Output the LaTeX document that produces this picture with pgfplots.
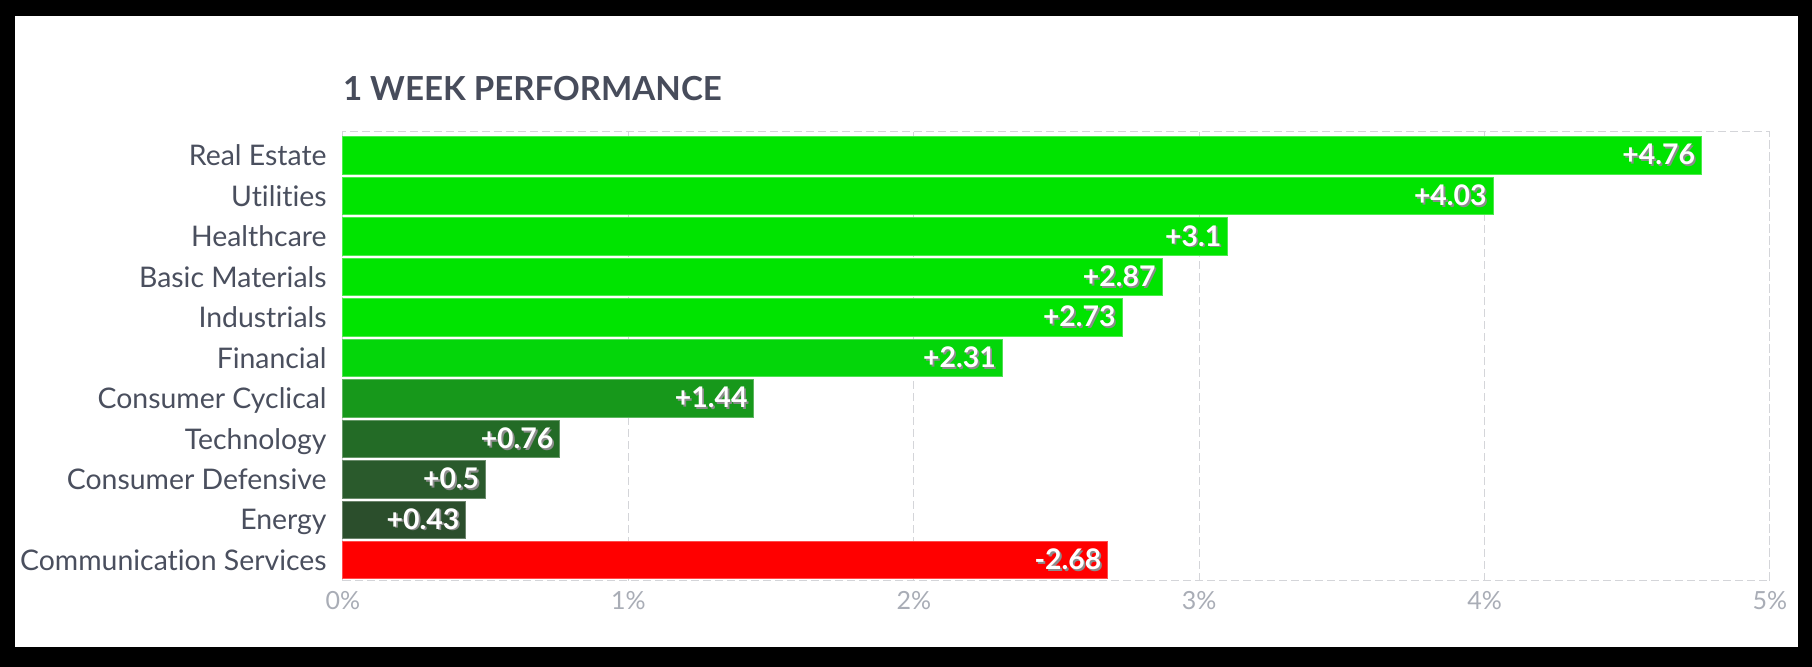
\documentclass[border=0pt]{standalone}
\usepackage{pgfplots}
\pgfplotsset{compat=1.18}
\usepackage{fontspec}
\setmainfont{Lato}[Ligatures=NoCommon]
\definecolor{cg1}{HTML}{00E400}
\definecolor{cg2}{HTML}{04D60A}
\definecolor{cg3}{HTML}{17981B}
\definecolor{cg4}{HTML}{236B26}
\definecolor{cg5}{HTML}{2A5A2C}
\definecolor{cg6}{HTML}{2B4E2C}
\definecolor{cred}{HTML}{FF0000}
\definecolor{txtc}{HTML}{4A4F5E}
\definecolor{titlec}{HTML}{474C5B}
\definecolor{tickc}{HTML}{A9ADB6}
\definecolor{gridc}{HTML}{D4D5D9}
\newcommand\shtext[1]{\rlap{\raisebox{-0.9pt}{\hspace{0.9pt}\textcolor{black!45}{#1}}}\textcolor{white}{#1}}
\begin{document}
\begin{tikzpicture}
\fill[black] (0pt,0pt) rectangle (906pt,-333.5pt);
\fill[white] (7.5pt,-8pt) rectangle (899pt,-323.5pt);
\node[anchor=base west, font=\fontsize{16.55}{20}\bfseries\selectfont, text=titlec, inner sep=0pt] at (171.3pt,-50.5pt) {1 WEEK PERFORMANCE};
\begin{axis}[
  at={(171.5pt,-290.5pt)}, anchor=south west,
  scale only axis, width=713.5pt, height=224.5pt,
  xmin=0, xmax=5, ymin=-0.513, ymax=10.587,
  xtick={0,1,2,3,4,5},
  xticklabels={0\%,1\%,2\%,3\%,4\%,5\%},
  ytick={0,1,2,3,4,5,6,7,8,9,10},
  yticklabels={Communication Services,Energy,Consumer Defensive,Technology,Consumer Cyclical,Financial,Industrials,Basic Materials,Healthcare,Utilities,Real Estate},
  xmajorgrids,
  grid style={gridc, dash pattern=on 4pt off 2pt, line width=0.5pt},
  axis line style={gridc, dash pattern=on 4pt off 2pt, line width=0.5pt},
  major tick length=0pt,
  xbar, bar width=18.75pt, bar shift=0pt,
  point meta=explicit symbolic,
  nodes near coords={\shtext{\pgfplotspointmeta}},
  every node near coord/.style={anchor=east, inner sep=0pt, xshift=-3pt, font=\fontsize{14.2}{16}\bfseries\selectfont},
  yticklabel style={font=\fontsize{14.2}{16}\selectfont, text=txtc, anchor=base east, inner sep=0pt, xshift=-8pt, yshift=-5.1pt},
  xticklabel style={font=\fontsize{12.5}{14}\selectfont, text=tickc, anchor=base, inner sep=0pt, yshift=-14.5pt},
  clip=false,
]
\addplot[fill=cg1, draw=cg1!70!white, line width=0.5pt] coordinates {(4.76,10) [+4.76]};
\addplot[fill=cg1, draw=cg1!70!white, line width=0.5pt] coordinates {(4.03,9) [+4.03]};
\addplot[fill=cg1, draw=cg1!70!white, line width=0.5pt] coordinates {(3.10,8) [+3.1]};
\addplot[fill=cg1, draw=cg1!70!white, line width=0.5pt] coordinates {(2.87,7) [+2.87]};
\addplot[fill=cg1, draw=cg1!70!white, line width=0.5pt] coordinates {(2.73,6) [+2.73]};
\addplot[fill=cg2, draw=cg2!70!white, line width=0.5pt] coordinates {(2.31,5) [+2.31]};
\addplot[fill=cg3, draw=cg3!70!white, line width=0.5pt] coordinates {(1.44,4) [+1.44]};
\addplot[fill=cg4, draw=cg4!70!white, line width=0.5pt] coordinates {(0.76,3) [+0.76]};
\addplot[fill=cg5, draw=cg5!70!white, line width=0.5pt] coordinates {(0.50,2) [+0.5]};
\addplot[fill=cg6, draw=cg6!70!white, line width=0.5pt] coordinates {(0.43,1) [+0.43]};
\addplot[fill=cred, draw=cred!70!white, line width=0.5pt] coordinates {(2.68,0) [-2.68]};
\end{axis}
\end{tikzpicture}
\end{document}
